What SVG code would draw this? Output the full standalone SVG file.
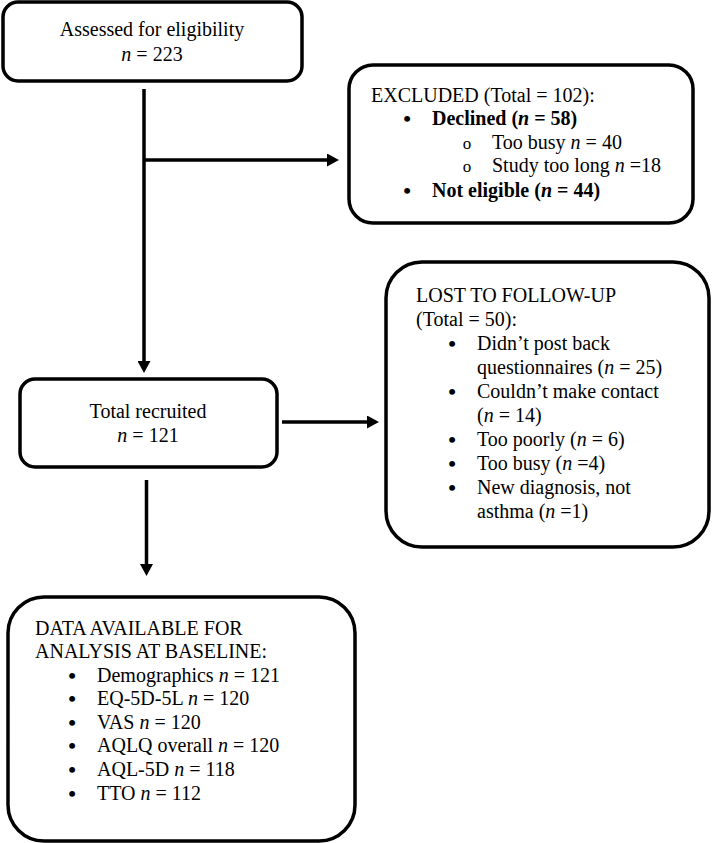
<svg xmlns="http://www.w3.org/2000/svg" width="712" height="843" viewBox="0 0 712 843">
<style>
.box{fill:#fff;stroke:#000;stroke-width:3.5}
.ln{fill:none;stroke:#000;stroke-width:3.5}
text{font-family:"Liberation Serif","Times New Roman",serif;font-size:20px;fill:#000}
.c{text-anchor:middle}
.i{font-style:italic}
.b{font-weight:bold}
.bu{font-size:22px;font-weight:bold;text-anchor:middle}
.ci{font-size:17px;text-anchor:middle}
</style>
<defs>
<marker id="ah" markerUnits="userSpaceOnUse" markerWidth="12" markerHeight="13" refX="0" refY="6.5" orient="auto">
<path d="M0,0 L12,6.5 L0,13 z" fill="#000"/>
</marker>
</defs>
<rect width="712" height="843" fill="#fff"/>
<g id="connectors">
<line class="ln" x1="144" y1="89" x2="144" y2="361" marker-end="url(#ah)"/>
<line class="ln" x1="144" y1="160" x2="327" y2="160" marker-end="url(#ah)"/>
<line class="ln" x1="282" y1="422" x2="367" y2="422" marker-end="url(#ah)"/>
<line class="ln" x1="146.5" y1="480" x2="146.5" y2="564" marker-end="url(#ah)"/>
</g>
<g id="assessed">
<rect class="box" x="3" y="2" width="299" height="79" rx="15"/>
<text class="c" x="152" y="36">Assessed for eligibility</text>
<text class="c" x="152" y="61"><tspan class="i">n</tspan> = 223</text>
</g>
<g id="excluded">
<rect class="box" x="349" y="65" width="344" height="158" rx="24"/>
<text x="371" y="102">EXCLUDED (Total = 102):</text>
<text class="bu" x="407" y="126">•</text>
<text x="432" y="125" class="b">Declined (<tspan class="i">n</tspan> = 58)</text>
<text class="ci" x="467" y="149">o</text>
<text x="492" y="149">Too busy <tspan class="i">n</tspan> = 40</text>
<text class="ci" x="467" y="172">o</text>
<text x="492" y="172">Study too long <tspan class="i">n</tspan> =18</text>
<text class="bu" x="407" y="198">•</text>
<text x="432" y="197" class="b">Not eligible (<tspan class="i">n</tspan> = 44)</text>
</g>
<g id="recruited">
<rect class="box" x="20" y="379" width="257" height="88" rx="15"/>
<text class="c" x="148" y="418">Total recruited</text>
<text class="c" x="148" y="442"><tspan class="i">n</tspan> = 121</text>
</g>
<g id="lost">
<rect class="box" x="386" y="262" width="323" height="285" rx="36"/>
<text x="416" y="302">LOST TO FOLLOW-UP</text>
<text x="416" y="326">(Total = 50):</text>
<text class="bu" x="452" y="351">•</text>
<text x="477" y="350">Didn’t post back</text>
<text x="477" y="374">questionnaires (<tspan class="i">n</tspan> = 25)</text>
<text class="bu" x="452" y="399">•</text>
<text x="477" y="398">Couldn’t make contact</text>
<text x="477" y="422">(<tspan class="i">n</tspan> = 14)</text>
<text class="bu" x="452" y="447">•</text>
<text x="477" y="446">Too poorly (<tspan class="i">n</tspan> = 6)</text>
<text class="bu" x="452" y="471">•</text>
<text x="477" y="470">Too busy (<tspan class="i">n</tspan> =4)</text>
<text class="bu" x="452" y="495">•</text>
<text x="477" y="494">New diagnosis, not</text>
<text x="477" y="518">asthma (<tspan class="i">n</tspan> =1)</text>
</g>
<g id="baseline">
<rect class="box" x="8" y="597" width="347" height="244" rx="36"/>
<text x="35" y="635">DATA AVAILABLE FOR</text>
<text x="35" y="658">ANALYSIS AT BASELINE:</text>
<text class="bu" x="72" y="683">•</text>
<text x="97" y="682">Demographics <tspan class="i">n</tspan> = 121</text>
<text class="bu" x="72" y="706">•</text>
<text x="97" y="705">EQ-5D-5L <tspan class="i">n</tspan> = 120</text>
<text class="bu" x="72" y="730">•</text>
<text x="97" y="729">VAS <tspan class="i">n</tspan> = 120</text>
<text class="bu" x="72" y="753">•</text>
<text x="97" y="752">AQLQ overall <tspan class="i">n</tspan> = 120</text>
<text class="bu" x="72" y="777">•</text>
<text x="97" y="776">AQL-5D <tspan class="i">n</tspan> = 118</text>
<text class="bu" x="72" y="801">•</text>
<text x="97" y="800">TTO <tspan class="i">n</tspan> = 112</text>
</g>
</svg>
